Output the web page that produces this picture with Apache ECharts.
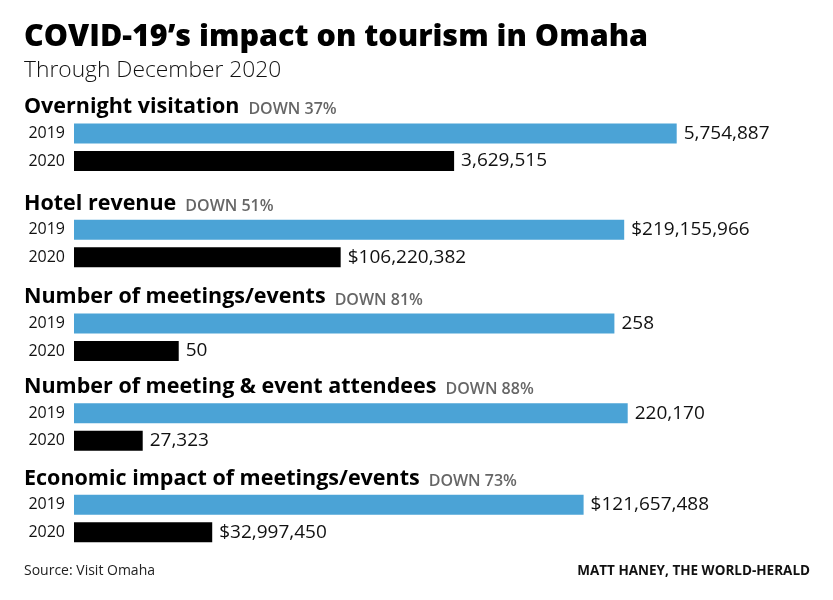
<!DOCTYPE html>
<html>
<head>
<meta charset="utf-8">
<script src="https://cdn.jsdelivr.net/npm/echarts@6/dist/echarts.min.js"></script>
<style>
  html, body {margin: 0; padding: 0; background: #fff;}
  #chart {width: 833px; height: 600px;}
</style>
</head>
<body>
<div id="chart"></div>
<script>
let groups = ['Overnight visitation', 'Hotel revenue', 'Number of meetings/events',
    'Number of meeting & event attendees', 'Economic impact of meetings/events'];
let pctDown = [37, 51, 81, 88, 73];
let years = ['2019', '2020'];
let values2019 = [5754887, 219155966, 258, 220170, 121657488];
let values2020 = [3629515, 106220382, 50, 27323, 32997450];
let prefixes = ['', '$', '', '', '$'];

// layout: each block has its own scale, reach = share of plot width the 2019 bar fills
let gridTops = [119.8, 216, 309.8, 399.5, 491.1];
let headerY = [105.5, 202.5, 296, 385.5, 477.5];
let reach = [0.861, 0.786, 0.772, 0.791, 0.728];

const FONT = '"Open Sans", "Noto Sans", sans-serif';
const BLUE = '#4ba3d6';

let grid = [], xAxis = [], yAxis = [], series = [], graphic = [];

graphic.push({
    type: 'text', x: 24, y: 37,
    style: {text: 'COVID-19’s impact on tourism in Omaha', font: '800 30.5px ' + FONT, fill: '#000',
        align: 'left', verticalAlign: 'middle'}
});
graphic.push({
    type: 'text', x: 24, y: 71,
    style: {text: 'Through December 2020', font: '300 22.8px ' + FONT, fill: '#111',
        align: 'left', verticalAlign: 'middle'}
});

groups.forEach(function (name, i) {
    grid.push({left: 74, width: 700, top: gridTops[i], height: 55});
    xAxis.push({type: 'value', gridIndex: i, min: 0, max: values2019[i] / reach[i], show: false});
    yAxis.push({
        type: 'category', gridIndex: i, data: years, inverse: true,
        axisLine: {show: false}, axisTick: {show: false}, splitLine: {show: false},
        axisLabel: {fontSize: 16, color: '#111', fontFamily: FONT, margin: 9}
    });
    series.push({
        type: 'bar', xAxisIndex: i, yAxisIndex: i, barWidth: 20,
        data: [
            {value: values2019[i], itemStyle: {color: BLUE}},
            {value: values2020[i], itemStyle: {color: '#000'}}
        ],
        label: {
            show: true, position: 'right', distance: 7,
            fontSize: 19, color: '#111', fontFamily: FONT,
            formatter: function (p) {
                return prefixes[i] + p.value.toLocaleString('en-US');
            }
        }
    });
    graphic.push({
        type: 'text', x: 24, y: headerY[i],
        style: {
            text: '{h|' + name + '}{d|DOWN ' + pctDown[i] + '%}',
            align: 'left', verticalAlign: 'middle',
            rich: {
                h: {fontSize: 21.5, fontWeight: 'bold', fontFamily: FONT, fill: '#000', verticalAlign: 'bottom', lineHeight: 24},
                d: {fontSize: 16, fontWeight: 600, fontFamily: FONT, fill: '#666', verticalAlign: 'bottom',
                    lineHeight: 24, padding: [0, 0, 0, 9]}
            }
        }
    });
});

graphic.push({
    type: 'text', x: 24, y: 571,
    style: {text: 'Source: Visit Omaha', font: '14px ' + FONT, fill: '#222', align: 'left', verticalAlign: 'middle'}
});
graphic.push({
    type: 'text', x: 810, y: 571,
    style: {text: 'MATT HANEY, THE WORLD-HERALD', font: 'bold 13.5px ' + FONT, fill: '#111',
        align: 'right', verticalAlign: 'middle'}
});

let chart = echarts.init(document.getElementById('chart'));
chart.setOption({
    animation: false,
    backgroundColor: '#fff',
    grid: grid,
    xAxis: xAxis,
    yAxis: yAxis,
    series: series,
    graphic: graphic
});
</script>
</body>
</html>
